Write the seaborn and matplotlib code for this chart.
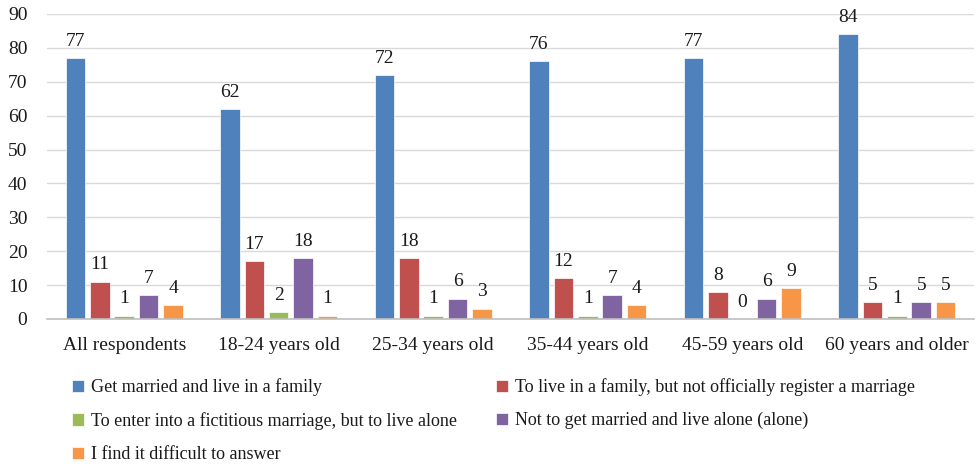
import numpy as np
import pandas as pd
import matplotlib.pyplot as plt
import seaborn as sns

# age groups (x axis)
groups = ["All respondents", "18-24 years old", "25-34 years old",
          "35-44 years old", "45-59 years old", "60 years and older"]

# answers (legend)
answers = ["Get married and live in a family",
           "To live in a family, but not officially register a marriage",
           "To enter into a fictitious marriage, but to live alone",
           "Not to get married and live alone (alone)",
           "I find it difficult to answer"]

married = [77, 62, 72, 76, 77, 84]
not_registered = [11, 17, 18, 12, 8, 5]
fictitious = [1, 2, 1, 1, 0, 1]
live_alone = [7, 18, 6, 7, 6, 5]
difficult = [4, 1, 3, 4, 9, 5]

colors = ["#4F81BD", "#C0504D", "#9BBB59", "#8064A2", "#F79646"]

values = [married, not_registered, fictitious, live_alone, difficult]
rows = []
for ans, vals in zip(answers, values):
    for g, v in zip(groups, vals):
        rows.append({"group": g, "answer": ans, "value": v})
df = pd.DataFrame(rows)

sns.set_style("white")
plt.rcParams['font.family'] = ['Liberation Serif', 'DejaVu Serif']

fig = plt.figure(figsize=(9.78, 4.65), dpi=100)
ax = fig.add_axes([0.048, 0.314, 0.948, 0.656])

sns.barplot(data=df, x="group", y="value", hue="answer", palette=colors,
            order=groups, hue_order=answers, width=0.79, gap=0.2,
            saturation=1, errorbar=None, edgecolor="white", linewidth=0.5,
            ax=ax)

# value labels above bars
for cont in ax.containers:
    ax.bar_label(cont, fmt="%d", padding=6, fontsize=14, color="#1a1a1a")

ax.set_ylim(0, 90)
ax.set_yticks(np.arange(0, 91, 10))
ax.set_xlim(-0.5, 5.5)
ax.grid(True, axis="y", color="#d9d9d9", linewidth=1)
ax.set_axisbelow(True)
for s in ["top", "right", "left"]:
    ax.spines[s].set_visible(False)
ax.spines["bottom"].set_color("#bfbfbf")
ax.spines["bottom"].set_linewidth(1.2)
ax.tick_params(axis="both", length=0, labelsize=14, labelcolor="#1a1a1a")
ax.tick_params(axis="x", pad=13)
ax.tick_params(axis="y", pad=14)
ax.set_xlabel("")
ax.set_ylabel("")

# legend, filled row by row
handles, labels = ax.get_legend_handles_labels()
ax.get_legend().remove()
order = [0, 2, 4, 1, 3]
fig.legend([handles[i] for i in order], [labels[i] for i in order],
           loc="upper left", bbox_to_anchor=(0.057, 0.222), ncol=2,
           frameon=False, fontsize=13, handlelength=0.65, handleheight=0.65,
           handletextpad=0.4, columnspacing=2.15, labelspacing=0.89,
           labelcolor="#1a1a1a")

fig.savefig("out.png", dpi=100)
